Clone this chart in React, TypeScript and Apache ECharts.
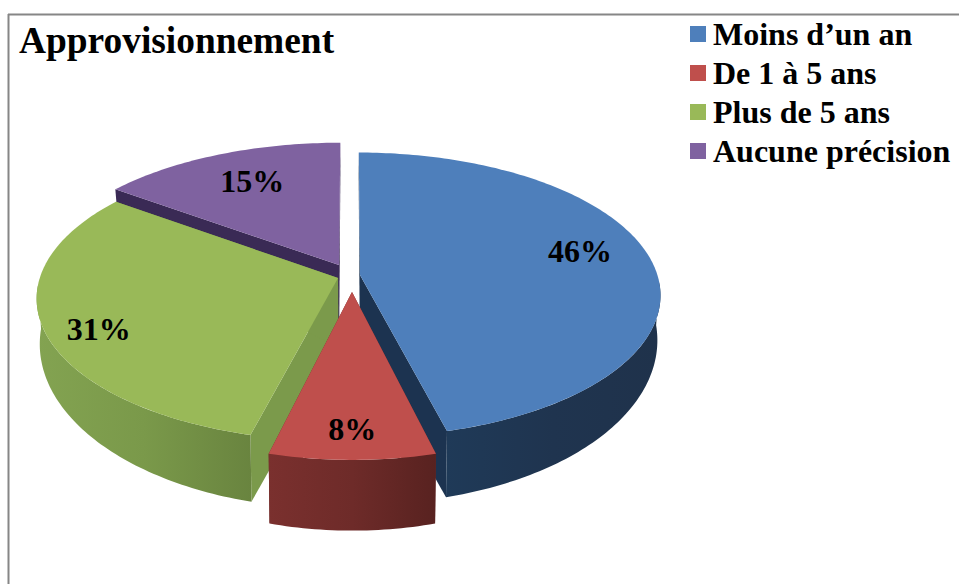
import React, { useEffect, useRef } from "react";
import * as echarts from "echarts";

const categories = ["Moins d’un an", "De 1 à 5 ans", "Plus de 5 ans", "Aucune précision"];
const shares = [46, 8, 31, 15];
const titleText = "Approvisionnement";

const topColors = ["#4E7FBB", "#BF4F4C", "#99B958", "#7F62A0"];
const radialWallColors = ["#1C3350", "#6B2A28", "#7B9A4B", "#3A2A55"];
const outerWallStops = [
  ["#1F3A58", "#1F344F", "#1F324B"],
  ["#7A302E", "#6E2B29", "#582220"],
  ["#83A351", "#7A994A", "#69843F"],
  ["#3A2A55", "#3A2A55", "#3A2A55"],
];
// Back-to-front stacking of the slices.
const stacking = [2, 4, 3, 1];
const serif = '"Liberation Serif", "Times New Roman", serif';

// Perspective of the pie's upper disc.
const centre = { x: 350, y: 277 };
const radiusX = 298;
const radiusY = 140;
const perspective = 0.139;
// The lower disc, seen from a steeper angle than the upper one.
const lowerRadiusX = 295;
const lowerRadiusY = 162;
const lowerDrop = 42;
// The slice tips on the lower disc.
const tipDrop = 70;
const tipScale = 0.98;

// How far each slice is pulled out of the pie, in disc units.
const pullU = [0.0336, 0.0066, -0.04, -0.0374];
const pullV = [-0.0142, 0.1056, 0.007, -0.0867];
const reachU = [1, 0.96, 1, 1.02];
const reachV = [1, 1, 1, 1.02];
// Where each percentage sits: fraction of the radius, and turn off the slice's middle.
const labelRadius = [0.775, 0.845, 0.84, 0.735];
const labelTurn = [-5, 0, -5.3, 0.8];

const total = shares.reduce((a, b) => a + b, 0);
const startAngles = shares.map((_, i) => (shares.slice(0, i).reduce((a, b) => a + b, 0) / total) * 360);

function topPoint(u: number, v: number) {
  const w = 1 - perspective * v;
  return [centre.x + (radiusX * u) / w, centre.y + (radiusY * v) / w];
}
function bottomPoint(u: number, v: number) {
  const w = 1 - perspective * v;
  return [centre.x + (lowerRadiusX * u) / w, centre.y + lowerDrop + (lowerRadiusY * v) / w];
}
function tipBottomPoint(u: number, v: number) {
  const [x, y] = topPoint(u, v);
  return [centre.x + tipScale * (x - centre.x), centre.y + tipDrop + tipScale * (y - centre.y)];
}
const rad = (deg: number) => (deg * Math.PI) / 180;

function renderSlice(i: number) {
  const from = startAngles[i];
  const to = from + (shares[i] / total) * 360;
  const rim = (deg: number) =>
    [pullU[i] + reachU[i] * Math.sin(rad(deg)), pullV[i] - reachV[i] * Math.cos(rad(deg))] as const;
  const apex = [pullU[i], pullV[i]] as const;
  const arc = (a: number, b: number) => {
    const steps = Math.max(2, Math.ceil(Math.abs(b - a)));
    return Array.from({ length: steps + 1 }, (_, k) => rim(a + ((b - a) * k) / steps));
  };
  const children: any[] = [];

  const radialWall = (deg: number) => ({
    type: "polygon",
    shape: {
      points: [
        topPoint(apex[0], apex[1]),
        topPoint(rim(deg)[0], rim(deg)[1]),
        bottomPoint(rim(deg)[0], rim(deg)[1]),
        tipBottomPoint(apex[0], apex[1]),
      ],
    },
    style: { fill: radialWallColors[i] },
  });
  children.push(radialWall(from), radialWall(to));

  // Only the stretch of rim turned towards the viewer gets an outer wall.
  const wallFrom = Math.max(from, 93);
  const wallTo = Math.min(to, 267);
  if (wallTo > wallFrom) {
    const rimPoints = arc(wallFrom, wallTo);
    const stops = outerWallStops[i];
    children.push({
      type: "polygon",
      shape: {
        points: [
          ...rimPoints.map(([u, v]) => topPoint(u, v)),
          ...rimPoints.slice().reverse().map(([u, v]) => bottomPoint(u, v)),
        ],
      },
      style: {
        fill: {
          type: "linear",
          x: 0,
          y: 0,
          x2: 1,
          y2: 0,
          colorStops: [
            { offset: 0, color: stops[0] },
            { offset: 0.5, color: stops[1] },
            { offset: 1, color: stops[2] },
          ],
        },
      },
    });
  }

  children.push({
    type: "polygon",
    shape: {
      points: [topPoint(apex[0], apex[1]), ...arc(from, to).map(([u, v]) => topPoint(u, v))],
    },
    style: { fill: topColors[i] },
  });

  const mid = rad((from + to) / 2 + labelTurn[i]);
  const [lx, ly] = topPoint(
    pullU[i] + labelRadius[i] * Math.sin(mid),
    pullV[i] - labelRadius[i] * Math.cos(mid),
  );
  children.push({
    type: "text",
    style: {
      text: `${shares[i]}%`,
      x: lx,
      y: ly - 1.5,
      align: "center",
      verticalAlign: "middle",
      font: `bold 32px ${serif}`,
      fill: "#000",
    },
  });
  return { type: "group", children };
}

export default function App() {
  const ref = useRef<HTMLDivElement>(null);
  useEffect(() => {
    const chart = echarts.init(ref.current!, undefined, { renderer: "svg" });
    chart.setOption({
      animation: false,
      backgroundColor: "#fff",
      title: {
        text: titleText,
        left: 19,
        top: 22,
        padding: 0,
        textStyle: { fontFamily: serif, fontWeight: "bold", fontSize: 37.4, color: "#000" },
      },
      legend: {
        orient: "vertical",
        left: 690,
        top: 18,
        padding: 0,
        itemWidth: 16,
        itemHeight: 16,
        itemGap: 7,
        icon: "rect",
        data: categories,
        textStyle: { fontFamily: serif, fontWeight: "bold", fontSize: 32, color: "#000", padding: [0, 0, 0, 2] },
      },
      graphic: [
        { type: "line", shape: { x1: 8, y1: 14.5, x2: 959, y2: 14.5 }, style: { stroke: "#868686", lineWidth: 2 } },
        { type: "line", shape: { x1: 8.5, y1: 14, x2: 8.5, y2: 584 }, style: { stroke: "#868686", lineWidth: 2 } },
      ],
      series: categories.map((name, i) => ({
        type: "custom",
        name,
        coordinateSystem: "none",
        z: stacking[i],
        itemStyle: { color: topColors[i] },
        data: [shares[i]],
        renderItem: () => renderSlice(i),
      })),
    });
    return () => chart.dispose();
  }, []);
  return <div ref={ref} style={{ position: "absolute", left: 0, top: 0, width: 959, height: 584 }} />;
}
